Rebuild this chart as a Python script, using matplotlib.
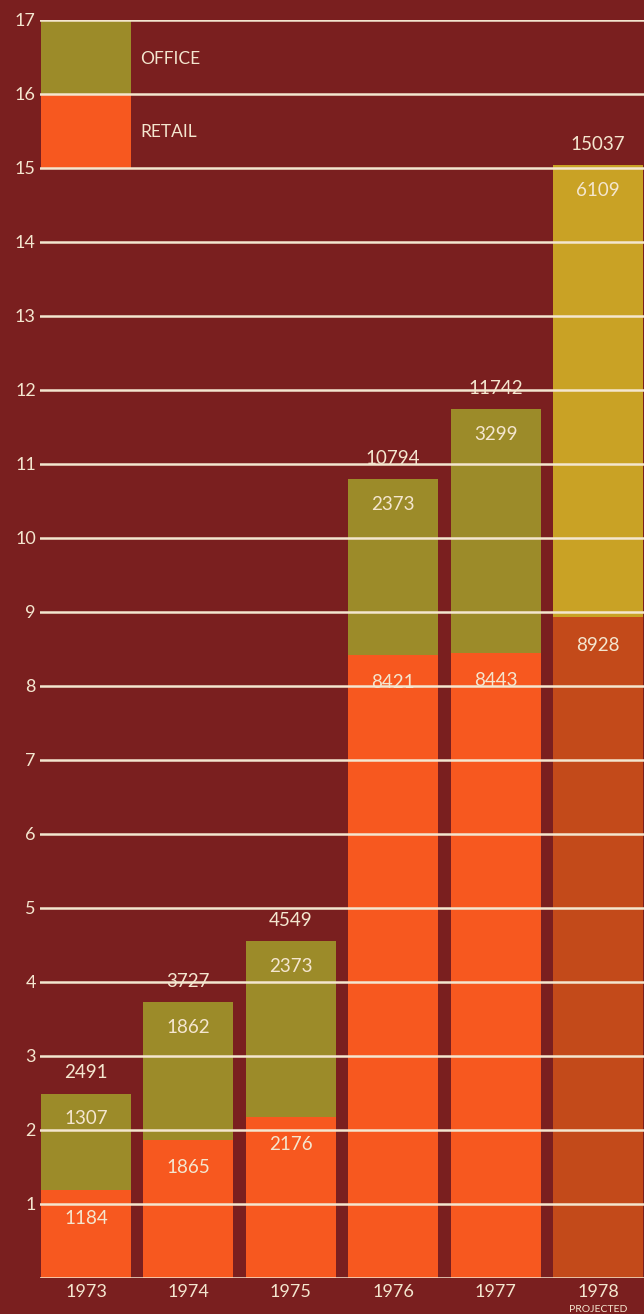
import matplotlib.pyplot as plt

years = ['1973', '1974', '1975', '1976', '1977', '1978']
retail = [1184, 1865, 2176, 8421, 8443, 8928]
office = [1307, 1862, 2373, 2373, 3299, 6109]
totals = [2491, 3727, 4549, 10794, 11742, 15037]

bg = '#7a1f1f'
cream = '#f4e6cf'
office_c = ['#9c8b29'] * 5 + ['#c9a225']
retail_c = ['#f7581f'] * 5 + ['#c34a1a']

plt.rcParams['font.family'] = ['Lato', 'DejaVu Sans']

fig = plt.figure(figsize=(6.44, 13.14), dpi=100, facecolor=bg)
ax = fig.add_axes([40 / 644, 36 / 1314, 604 / 644, 1258 / 1314], facecolor=bg)

x = list(range(len(years)))
r = [v / 1000 for v in retail]
o = [v / 1000 for v in office]
w = 0.88

ax.bar(x, r, width=w, color=retail_c, zorder=2)
ax.bar(x, o, width=w, bottom=r, color=office_c, zorder=2)

# legend boxes in the top left, in the same column as the first bar
ax.bar([0], [1], width=w, bottom=16, color=office_c[0], zorder=2)
ax.bar([0], [1], width=w, bottom=15, color=retail_c[0], zorder=2)
ax.text(0.53, 16.47, 'OFFICE', color=cream, fontsize=12.5, va='center', ha='left')
ax.text(0.53, 15.48, 'RETAIL', color=cream, fontsize=12.5, va='center', ha='left')

for i in x:
    top = r[i] + o[i]
    ax.annotate(str(totals[i]), (i, top), xytext=(0, 15), textcoords='offset points',
                ha='center', va='center', color=cream, fontsize=13.5)
    ax.annotate(str(office[i]), (i, top), xytext=(0, -18), textcoords='offset points',
                ha='center', va='center', color=cream, fontsize=13.5)
    ax.annotate(str(retail[i]), (i, r[i]), xytext=(0, -20), textcoords='offset points',
                ha='center', va='center', color=cream, fontsize=13.5)

for y in range(0, 18):
    ax.axhline(y, color=cream, lw=1.8, zorder=3)

ax.set_xlim(-0.45, 5.45)
ax.set_ylim(0, 17)
ax.set_yticks(range(1, 18))
ax.set_yticklabels([str(v) for v in range(1, 18)], color=cream, fontsize=13)
ax.set_xticks(x)
ax.set_xticklabels(years, color=cream, fontsize=13)
ax.tick_params(length=0, pad=4)
ax.tick_params(axis='y', pad=3)
ax.annotate('PROJECTED', (5, 0), xytext=(0, -23), textcoords='offset points',
            ha='center', va='center', color=cream, fontsize=7.5, annotation_clip=False)
for s in ax.spines.values():
    s.set_visible(False)

fig.savefig('out.png', dpi=100, facecolor=bg)
